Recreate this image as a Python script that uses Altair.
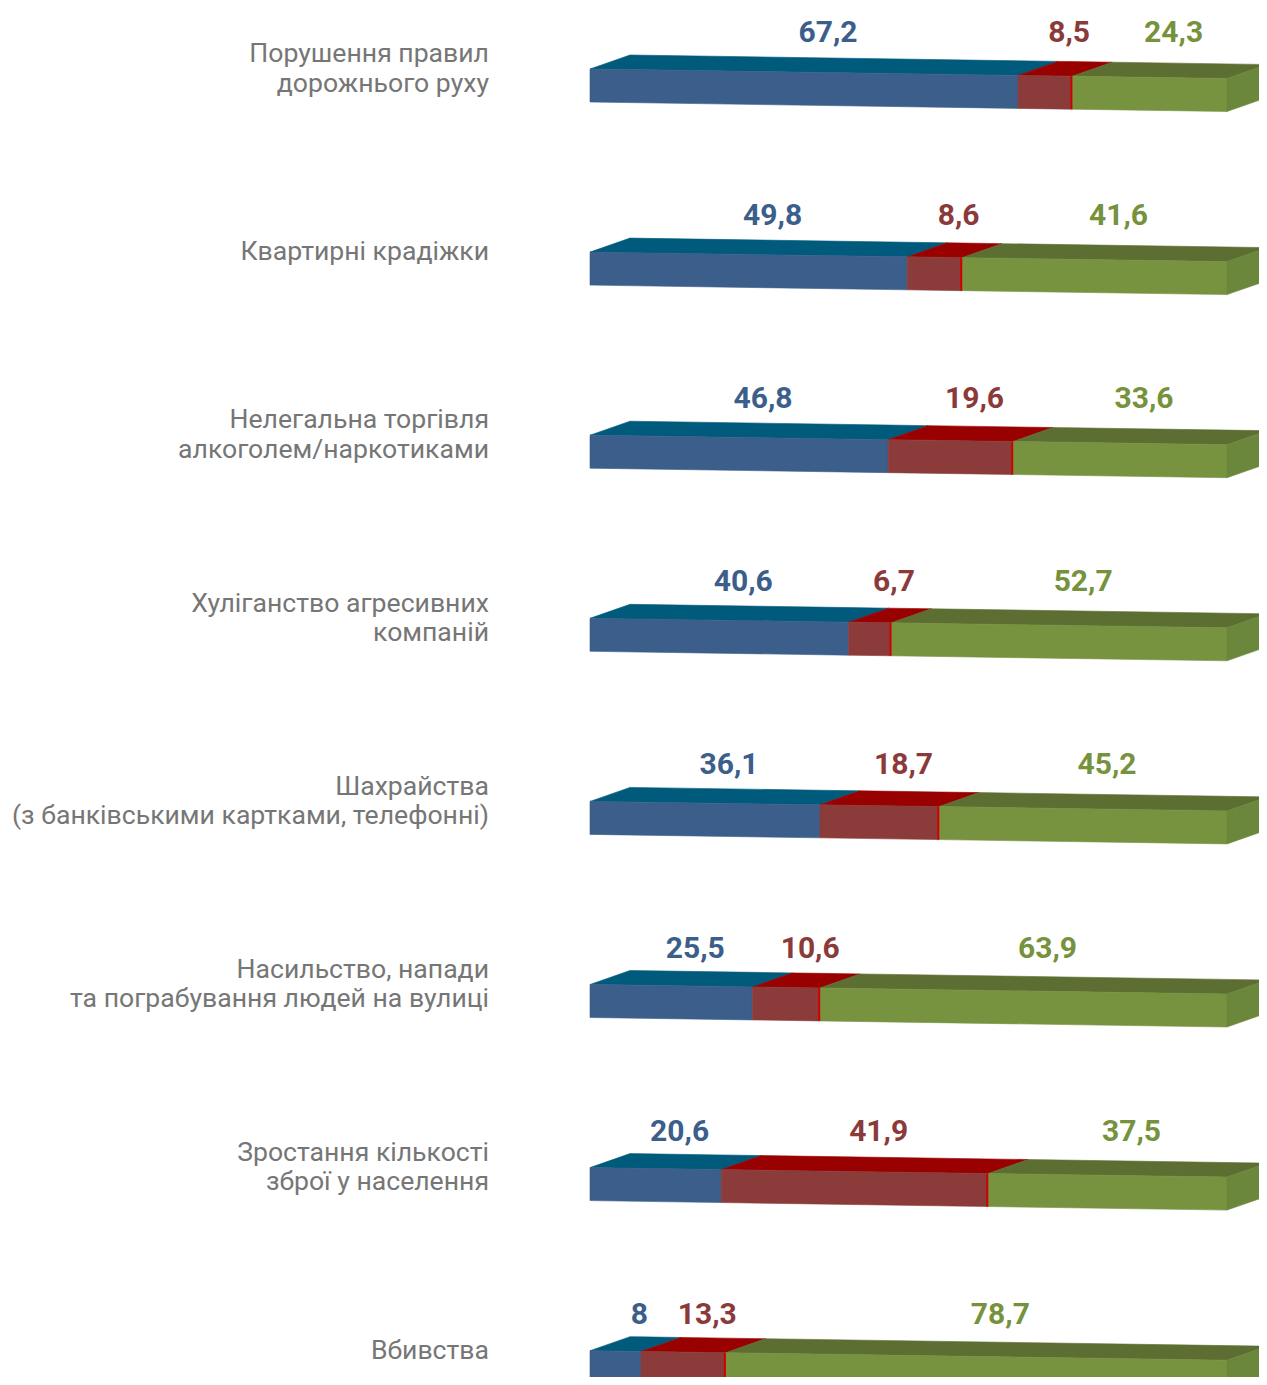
import altair as alt
import pandas as pd

categories = [
    "Порушення правил\nдорожнього руху",
    "Квартирні крадіжки",
    "Нелегальна торгівля\nалкоголем/наркотиками",
    "Хуліганство агресивних\nкомпаній",
    "Шахрайства\n(з банківськими картками, телефонні)",
    "Насильство, напади\nта пограбування людей на вулиці",
    "Зростання кількості\nзброї у населення",
    "Вбивства",
]
blue = [67.2, 49.8, 46.8, 40.6, 36.1, 25.5, 20.6, 8]
red = [8.5, 8.6, 19.6, 6.7, 18.7, 10.6, 41.9, 13.3]
green = [24.3, 41.6, 33.6, 52.7, 45.2, 63.9, 37.5, 78.7]

series = [blue, red, green]
front_colors = ["#3b5e8a", "#8b3b3a", "#77933f"]
top_colors = ["#005a7c", "#990000", "#5d6e33"]
side_color = "#6b873c"
label_colors = ["#3b5e8b", "#8b3a3a", "#76923c"]
edge_color = "#d00000"

# layout / style constants (pixels)
W, H = 1251, 1369
X0_PX = 582.0      # position of 0 %
PX_PCT = 6.37      # pixels per percent
Y0_PX = 61.0       # front-top of first row
ROW_PX = 183.1     # row spacing
FRONT_H = 33.0
DX, DY = 40.0, 14.0
SLOPE = 9.5        # perspective drop over the full bar
LINE_H = 29.5
CAT_SHIFT = 0.0

dxp = DX / PX_PCT
dyu = DY / ROW_PX
hu = FRONT_H / ROW_PX


def ft(r, x):
    return r + SLOPE / ROW_PX * x / 100.0


def bt(r, x):
    return ft(r, x - dxp) - dyu


top_rows, front_rows, side_rows, label_rows, cat_rows, edge_rows = [], [], [], [], [], []
for r, cat in enumerate(categories):
    start = 0.0
    for s, vals in enumerate(series):
        v = vals[r]
        x0, x1 = start, start + v
        pid = f"{r}-{s}"

        def lower(x):
            if x <= x1:
                return ft(r, x)
            return ft(r, x1) + (bt(r, x1 + dxp) - ft(r, x1)) * (x - x1) / dxp

        def upper(x):
            if x >= x0 + dxp:
                return bt(r, x)
            return ft(r, x0) + (bt(r, x0 + dxp) - ft(r, x0)) * (x - x0) / dxp

        for x in sorted(set([x0, x0 + dxp, x1, x1 + dxp])):
            top_rows.append(dict(poly=pid, x=x, y=lower(x), y2=upper(x), c=top_colors[s]))
        for x in (x0, x1):
            front_rows.append(dict(poly=pid, x=x, y=ft(r, x) + hu, y2=ft(r, x), c=front_colors[s]))
        if s == 1:
            edge_rows.append(dict(x=x1 - 0.12, y=ft(r, x1), y2=ft(r, x1) + hu))
        txt = f"{v:g}".replace(".", ",")
        label_rows.append(dict(x=(x0 + x1) / 2 + (DX / 2 + 4) / PX_PCT,
                               y=r - 36.0 / ROW_PX, t=txt, c=label_colors[s]))
        start = x1
    end = start
    side_rows.append(dict(poly=f"s{r}", x=end, y=ft(r, end) + hu, y2=ft(r, end), c=side_color))
    side_rows.append(dict(poly=f"s{r}", x=end + dxp, y=bt(r, end + dxp) + hu,
                          y2=bt(r, end + dxp), c=side_color))
    nlines = cat.count("\n") + 1
    cat_rows.append(dict(x=-101.0 / PX_PCT,
                         y=r + (CAT_SHIFT - (nlines - 1) * LINE_H / 2) / ROW_PX, t=cat))

xdom = [-X0_PX / PX_PCT, (W - X0_PX) / PX_PCT]
ydom = [-Y0_PX / ROW_PX, (H - Y0_PX) / ROW_PX]
xs = alt.Scale(domain=xdom, nice=False, zero=False)
ys = alt.Scale(domain=ydom, nice=False, zero=False, reverse=True)


def area_layer(rows):
    return alt.Chart(pd.DataFrame(rows)).mark_area(
        orient="vertical", interpolate="linear", strokeWidth=0.6
    ).encode(
        x=alt.X("x:Q", scale=xs, axis=None),
        y=alt.Y("y:Q", scale=ys, axis=None),
        y2="y2:Q",
        detail="poly:N",
        color=alt.Color("c:N", scale=None),
        stroke=alt.Color("c:N", scale=None),
    )


top = area_layer(top_rows)
front = area_layer(front_rows)
side = area_layer(side_rows)

edges = alt.Chart(pd.DataFrame(edge_rows)).mark_rule(color=edge_color, strokeWidth=2).encode(
    x=alt.X("x:Q", scale=xs, axis=None),
    y=alt.Y("y:Q", scale=ys, axis=None),
    y2="y2:Q",
)

labels = alt.Chart(pd.DataFrame(label_rows)).mark_text(
    font="Roboto", fontSize=30, fontWeight="bold", baseline="middle", align="center"
).encode(
    x=alt.X("x:Q", scale=xs, axis=None),
    y=alt.Y("y:Q", scale=ys, axis=None),
    text="t:N",
    color=alt.Color("c:N", scale=None),
)

cats = alt.Chart(pd.DataFrame(cat_rows)).mark_text(
    font="Roboto", fontSize=26.6, baseline="middle", align="right",
    lineBreak="\n", lineHeight=LINE_H, color="#767676"
).encode(
    x=alt.X("x:Q", scale=xs, axis=None),
    y=alt.Y("y:Q", scale=ys, axis=None),
    text="t:N",
)

chart = alt.layer(top, front, side, edges, labels, cats).properties(
    width=W, height=H, padding=0, autosize=alt.AutoSizeParams(type="none")
).configure_view(stroke=None)

chart.save("out.html", embed_options={"renderer": "svg", "actions": False})
